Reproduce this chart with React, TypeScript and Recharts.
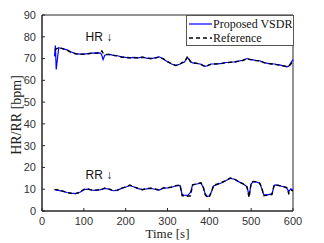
import { LineChart, Line, XAxis, YAxis, ReferenceArea, ReferenceDot } from 'recharts';

const times = [30, 32, 34, 40, 50, 60, 70, 80, 90, 100, 110, 120, 130, 140, 143, 146, 150, 160, 170, 180, 190, 200, 210, 220, 230, 240, 250, 260, 270, 280, 290, 300, 310, 320, 330, 335, 340, 348, 355, 360, 370, 380, 385, 390, 395, 400, 405, 410, 420, 430, 440, 450, 460, 470, 480, 490, 495, 500, 505, 510, 520, 525, 530, 540, 550, 555, 560, 570, 580, 585, 590, 595, 600];

const hrVsdr = [71, 76, 65, 75, 74.5, 74, 73, 72.3, 72, 72, 72.3, 72.5, 72.6, 72.5, 71.5, 69.5, 71.5, 72, 71.5, 71.3, 70.8, 70.5, 70.3, 70.5, 70.3, 70.7, 70.2, 70, 70.3, 70.8, 69.8, 68.5, 67.5, 66.8, 67.5, 68, 68.3, 70.5, 68.5, 68, 67.8, 67.4, 66.8, 66.4, 66.7, 67.2, 67.5, 67.5, 67.6, 67.8, 68.2, 68.3, 68.5, 68.8, 69.2, 70, 69.6, 69.5, 69.4, 69.2, 69, 68.6, 68.2, 67.8, 67.6, 67.5, 67.3, 67, 66.5, 66.2, 66.5, 68, 69.5];
const hrRef = [74, 74, 74.5, 75, 74.5, 73.8, 72.8, 72.2, 72, 72, 72.2, 72.5, 72.5, 72.8, 73.5, 72.5, 72, 71.8, 71.5, 71.2, 70.7, 70.5, 70.4, 70.4, 70.3, 70.6, 70.3, 70, 70.2, 70.7, 69.9, 68.6, 67.6, 66.8, 67.4, 68.2, 68.4, 71, 68.6, 68, 67.8, 67.3, 66.8, 66.5, 66.6, 67.1, 67.4, 67.5, 67.6, 67.8, 68.1, 68.3, 68.4, 68.8, 69.1, 70, 69.7, 69.5, 69.4, 69.1, 69, 68.6, 68.1, 67.8, 67.5, 67.4, 67.2, 66.9, 66.5, 66.3, 66.6, 67.5, 69.2];

const rrVsdr = [10, 9.8, 9.6, 9.5, 9, 8.5, 8.2, 8, 8.5, 9.8, 10, 9.6, 9.5, 9.8, 10, 10.2, 10.4, 10, 9.3, 9.5, 10.4, 11, 11.7, 11, 10.3, 9.8, 10.2, 10.4, 10, 9.6, 10.5, 10.6, 10.9, 11.6, 11.8, 7.5, 7.3, 7.2, 8.5, 12, 12.4, 12.8, 11, 8, 6.6, 7, 8.8, 11.5, 12.3, 13, 14, 15, 14.6, 13.5, 12.5, 11.2, 7, 12.5, 13.4, 13.5, 12.8, 10.5, 7.5, 7.4, 8, 11.8, 12, 11.5, 11, 10.5, 9, 10.2, 9.5];
const rrRef = [9.8, 9.8, 9.8, 9.6, 9.1, 8.5, 8.1, 8, 8.6, 9.9, 10.1, 9.5, 9.6, 9.9, 10, 10.2, 10.6, 10.1, 9.4, 9.6, 10.5, 11, 11.9, 11, 10.4, 9.8, 10.3, 10.5, 10.1, 9.6, 10.6, 10.7, 11, 11.6, 12, 7, 7, 6.8, 7, 12, 12.5, 13, 11.5, 7.5, 6.2, 6.5, 8.5, 11.8, 12.4, 13.2, 14, 15.2, 14.7, 13.4, 12.6, 11, 6.2, 13, 13.6, 13.5, 12.9, 11, 7, 7.3, 7.6, 12, 11.9, 11.6, 11, 10.8, 8, 9.6, 9.2];

const xTicks = [0, 100, 200, 300, 400, 500, 600];
const yTicks = [0, 10, 20, 30, 40, 50, 60, 70, 80, 90];

const data = times.map((t, i) => ({
  t,
  hrVsdr: hrVsdr[i],
  hrRef: hrRef[i],
  rrVsdr: rrVsdr[i],
  rrRef: rrRef[i],
}));

const AXIS = '#262626';
const SERIF = 'Liberation Serif, Times New Roman, serif';
const tickStyle = { fontFamily: 'Liberation Sans, Arial, sans-serif', fontSize: 11, fill: '#333' };

function LegendBox() {
  return (
    <div
      style={{
        position: 'absolute',
        left: 186,
        top: 15,
        width: 108,
        height: 31,
        border: '1px solid #555',
        background: '#fff',
        boxSizing: 'border-box',
        fontFamily: SERIF,
        fontSize: 12,
        color: '#111',
        lineHeight: '14px',
        whiteSpace: 'nowrap',
        paddingTop: 1,
      }}
    >
      <div style={{ display: 'flex', alignItems: 'center' }}>
        <svg width={26} height={14}>
          <line x1={2} y1={7} x2={25} y2={7} stroke="#0000ff" strokeWidth={1.2} />
        </svg>
        <span>Proposed VSDR</span>
      </div>
      <div style={{ display: 'flex', alignItems: 'center' }}>
        <svg width={26} height={14}>
          <line x1={2} y1={7} x2={25} y2={7} stroke="#000" strokeWidth={1.5} strokeDasharray="4 3" />
        </svg>
        <span>Reference</span>
      </div>
    </div>
  );
}

export default function App() {
  return (
    <div style={{ position: 'absolute', left: 0, top: 0, width: 324, height: 243, background: '#fff' }}>
      <LineChart width={324} height={243} data={data} margin={{ top: 15, right: 31, bottom: 12, left: 12 }}>
        <XAxis
          dataKey="t"
          type="number"
          domain={[0, 600]}
          ticks={xTicks}
          height={20}
          stroke={AXIS}
          tickSize={-3}
          tickMargin={9}
          tick={tickStyle}
          label={{
            content: () => (
              <text x={167.5} y={238} textAnchor="middle" fontFamily={SERIF} fontSize={13} fill="#222">
                Time [s]
              </text>
            ),
          }}
        />
        <YAxis
          type="number"
          domain={[0, 90]}
          ticks={yTicks}
          width={30}
          stroke={AXIS}
          tickSize={-3}
          tickMargin={9}
          tick={tickStyle}
          label={{
            content: () => (
              <text x={0} y={0} transform="translate(21,115) rotate(-90)" textAnchor="middle" fontFamily={SERIF} fontSize={14} fill="#222">
                HR/RR [bpm]
              </text>
            ),
          }}
        />
        <ReferenceArea x1={0} x2={600} y1={0} y2={90} fill="none" stroke={AXIS} strokeWidth={1} />
        <Line dataKey="hrVsdr" stroke="#0000ff" strokeWidth={1.2} dot={false} isAnimationActive={false} />
        <Line dataKey="hrRef" stroke="#000" strokeWidth={1.4} strokeDasharray="4 3" dot={false} isAnimationActive={false} />
        <Line dataKey="rrVsdr" stroke="#0000ff" strokeWidth={1.2} dot={false} isAnimationActive={false} />
        <Line dataKey="rrRef" stroke="#000" strokeWidth={1.4} strokeDasharray="4 3" dot={false} isAnimationActive={false} />
        <ReferenceDot x={136} y={80} r={0} label={{ value: 'HR ↓', position: 'center', style: { ...tickStyle, fill: '#111', fontSize: 12 } }} />
        <ReferenceDot x={136} y={16.5} r={0} label={{ value: 'RR ↓', position: 'center', style: { ...tickStyle, fill: '#111', fontSize: 12 } }} />
      </LineChart>
      <LegendBox />
    </div>
  );
}
